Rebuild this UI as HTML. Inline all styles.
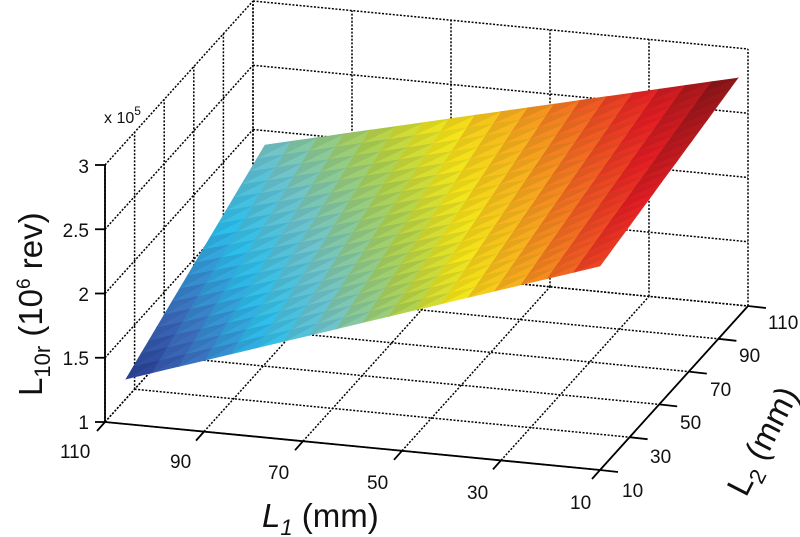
<!DOCTYPE html>
<html><head><meta charset="utf-8"><style>
html,body{margin:0;padding:0;background:#fff;}
svg{display:block;font-family:"Liberation Sans",Arial,sans-serif;}
</style></head><body>
<svg id="s" width="800" height="537" viewBox="0 0 800 537" xmlns="http://www.w3.org/2000/svg">
<g id="grid" stroke="#000" stroke-width="1.5" stroke-dasharray="2,1.6" fill="none"></g>
<g id="surf"></g>
<g id="axes" stroke="#000" stroke-width="1.8" fill="none"></g>
<g font-size="19" fill="#111">
<text x="89" y="173" text-anchor="end">3</text>
<text x="89" y="237" text-anchor="end">2.5</text>
<text x="89" y="301" text-anchor="end">2</text>
<text x="89" y="365" text-anchor="end">1.5</text>
<text x="89" y="429" text-anchor="end">1</text>
<text x="104" y="123" font-size="16">x 10<tspan dy="-8" font-size="12">5</tspan></text>
<text x="60" y="458">110</text>
<text x="170" y="468">90</text>
<text x="268" y="479">70</text>
<text x="367" y="489">50</text>
<text x="467" y="499">30</text>
<text x="570" y="509">10</text>
<text x="622" y="497">10</text>
<text x="650" y="463">30</text>
<text x="680" y="429">50</text>
<text x="710" y="396">70</text>
<text x="739" y="362">90</text>
<text x="768" y="329">110</text>
</g>
<text x="262" y="527" font-size="33" fill="#111"><tspan font-style="italic">L</tspan><tspan font-size="22" dy="8" font-style="italic">1</tspan><tspan dy="-8"> (mm)</tspan></text>
<text transform="translate(746,498) rotate(-63)" font-size="33" fill="#111">L<tspan font-size="22" dy="8">2</tspan><tspan dy="-8"> (mm)</tspan></text>
<text transform="translate(42,396) rotate(-90)" font-size="33" fill="#111">L<tspan font-size="22" dy="8">10r</tspan><tspan dy="-8"> (10</tspan><tspan font-size="19" dy="-12">6</tspan><tspan dy="12"> rev)</tspan></text>
</svg>
<script>
var NS="http://www.w3.org/2000/svg";
function P(L1,L2,z){
 return [105+4.95*(110-L1)+1.48*(L2-10), 422+0.48*(110-L1)-1.64*(L2-10)-128.5*(z-1)];
}
function line(g,p,q){var l=document.createElementNS(NS,"line");l.setAttribute("x1",p[0]);l.setAttribute("y1",p[1]);l.setAttribute("x2",q[0]);l.setAttribute("y2",q[1]);g.appendChild(l);}
var g=document.getElementById("grid");
var L1s=[110,90,70,50,30,10],L2s=[10,30,50,70,90,110],zs=[1,1.5,2,2.5,3];
L1s.forEach(function(a){line(g,P(a,10,1),P(a,110,1));});
L2s.forEach(function(b){line(g,P(110,b,1),P(10,b,1));});
L2s.forEach(function(b){line(g,P(110,b,1),P(110,b,3));});
zs.forEach(function(z){line(g,P(110,10,z),P(110,110,z));});
L1s.forEach(function(a){line(g,P(a,110,1),P(a,110,3));});
zs.forEach(function(z){line(g,P(110,110,z),P(10,110,z));});
var ax=document.getElementById("axes");
line(ax,P(110,10,1),P(10,10,1));
line(ax,P(10,10,1),P(10,110,1));
line(ax,P(110,10,1),P(110,10,3));
zs.forEach(function(z){var p=P(110,10,z);line(ax,p,[p[0]-10,p[1]]);});
L1s.forEach(function(a){var p=P(a,10,1);line(ax,p,[p[0]-8,p[1]+9]);});
L2s.forEach(function(b){var p=P(10,b,1);line(ax,p,[p[0]+18,p[1]+2]);});
var C1=[126,379],C2=[265,145],C3=[738,78],C4=[600,266];
function S(u,v){return [(1-u)*(1-v)*C1[0]+u*(1-v)*C4[0]+u*v*C3[0]+(1-u)*v*C2[0],(1-u)*(1-v)*C1[1]+u*(1-v)*C4[1]+u*v*C3[1]+(1-u)*v*C2[1]];}
var stops=[[0,[40,55,140]],[0.12,[60,110,190]],[0.25,[45,190,235]],[0.36,[110,195,205]],[0.5,[175,210,80]],[0.6,[245,230,25]],[0.7,[247,170,30]],[0.8,[240,90,35]],[0.88,[228,30,36]],[1,[125,20,22]]];
function cm(t){t=Math.max(0,Math.min(1,t));for(var i=1;i<stops.length;i++){if(t<=stops[i][0]){var a=stops[i-1],b=stops[i],f=(t-a[0])/(b[0]-a[0]);return [0,1,2].map(function(k){return a[1][k]+(b[1][k]-a[1][k])*f;});}}return stops[stops.length-1][1];}
var sg=document.getElementById("surf"),N=18;
function tri(pts,c,f){var p=document.createElementNS(NS,"polygon");p.setAttribute("points",pts.map(function(q){return q[0].toFixed(1)+","+q[1].toFixed(1);}).join(" "));var col="rgb("+c.map(function(x){return Math.round(Math.min(255,x*f));}).join(",")+")";p.setAttribute("fill",col);p.setAttribute("stroke",col);p.setAttribute("stroke-width","0.6");sg.appendChild(p);}
for(var i=0;i<N;i++)for(var j=0;j<N;j++){
 var u0=i/N,u1=(i+1)/N,v0=j/N,v1=(j+1)/N,uc=(i+.5)/N,vc=(j+.5)/N;
 var t=0.85*uc+0.36*vc-0.21*uc*vc;
 var c=cm(t);
 var a=S(u0,v0),b=S(u1,v0),cc=S(u1,v1),d=S(u0,v1);
 tri([a,b,cc],c,1.0);
 tri([a,cc,d],c,0.93);
}
</script>
</body></html>
